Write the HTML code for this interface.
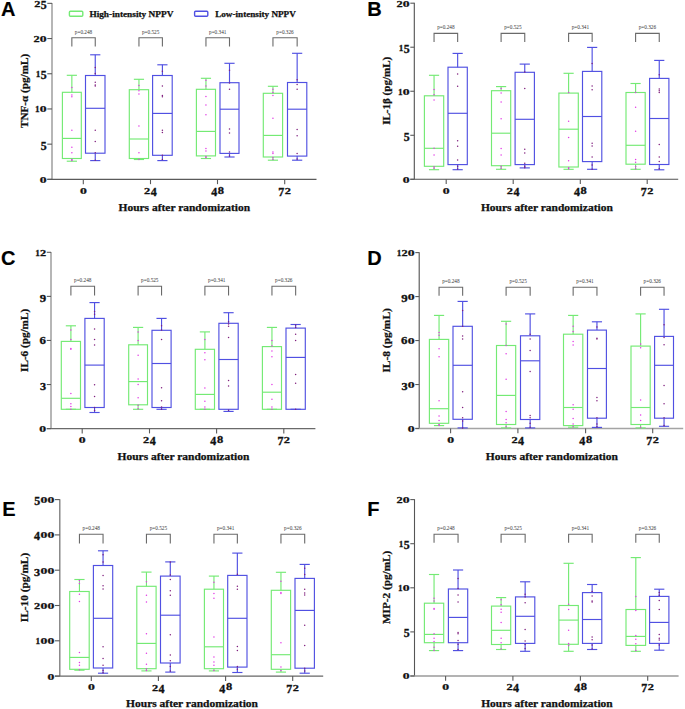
<!DOCTYPE html>
<html><head><meta charset="utf-8"><style>
html,body{margin:0;padding:0;background:#fff;}
svg{display:block;}
.L{font-family:"Liberation Sans",sans-serif;font-weight:bold;font-size:20px;fill:#000;stroke:#000;stroke-width:0.15px;}
.T{font-family:"Liberation Serif",serif;font-weight:bold;font-size:9px;fill:#111;stroke:#111;stroke-width:0.25px;}
.X{font-family:"Liberation Serif",serif;font-weight:bold;font-size:9.8px;fill:#111;stroke:#111;stroke-width:0.25px;}
.G{font-family:"Liberation Serif",serif;font-weight:bold;font-size:8.6px;fill:#111;stroke:#111;stroke-width:0.25px;}
.D{font-family:"Liberation Serif",serif;font-weight:bold;font-size:10px;fill:#111;stroke:#111;stroke-width:0.3px;}
.P{font-family:"Liberation Serif",serif;font-size:5.2px;fill:#333;}
</style></head><body>
<svg width="685" height="709" viewBox="0 0 685 709">
<rect width="685" height="709" fill="#fff"/>
<text transform="translate(1,16.3)" class="L">A</text>
<line x1="52" y1="2.95" x2="52" y2="179.35" stroke="#a4a4a4" stroke-width="1.6"/>
<line x1="47.3" y1="179.35" x2="316.5" y2="179.35" stroke="#5a5a5a" stroke-width="1.1"/>
<line x1="47.3" y1="179.35" x2="52" y2="179.35" stroke="#5a5a5a" stroke-width="1.1"/>
<text transform="translate(39.78,182.78) scale(1.3712,0.8309)" class="D">0</text>
<line x1="47.3" y1="144.15" x2="52" y2="144.15" stroke="#5a5a5a" stroke-width="1.1"/>
<text transform="translate(40.63,149.55) scale(1.1848,1.1446)" class="D">5</text>
<line x1="47.3" y1="108.95" x2="52" y2="108.95" stroke="#5a5a5a" stroke-width="1.1"/>
<text transform="translate(34.96,112.45) scale(0.9264,0.8485)" class="D">1</text><text transform="translate(39.78,112.38) scale(1.3712,0.8309)" class="D">0</text>
<line x1="47.3" y1="73.75" x2="52" y2="73.75" stroke="#5a5a5a" stroke-width="1.1"/>
<text transform="translate(35.76,77.25) scale(0.9264,0.8485)" class="D">1</text><text transform="translate(40.63,79.15) scale(1.1848,1.1446)" class="D">5</text>
<line x1="47.3" y1="38.55" x2="52" y2="38.55" stroke="#5a5a5a" stroke-width="1.1"/>
<text transform="translate(33.48,42.05) scale(1.2319,0.8459)" class="D">2</text><text transform="translate(39.78,41.98) scale(1.3712,0.8309)" class="D">0</text>
<line x1="47.3" y1="3.35" x2="52" y2="3.35" stroke="#5a5a5a" stroke-width="1.1"/>
<text transform="translate(34.28,6.85) scale(1.2319,0.8459)" class="D">2</text><text transform="translate(40.63,8.75) scale(1.1848,1.1446)" class="D">5</text>
<line x1="83.3" y1="179.35" x2="83.3" y2="184.15" stroke="#5a5a5a" stroke-width="1.1"/>
<text transform="translate(79.88,193.68) scale(1.3712,0.8309)" class="D">0</text>
<line x1="150.5" y1="179.35" x2="150.5" y2="184.15" stroke="#5a5a5a" stroke-width="1.1"/>
<text transform="translate(144.03,193.75) scale(1.2319,0.8459)" class="D">2</text><text transform="translate(150.68,195.75) scale(1.2017,1.1550)" class="D">4</text>
<line x1="217.5" y1="179.35" x2="217.5" y2="184.15" stroke="#5a5a5a" stroke-width="1.1"/>
<text transform="translate(211.23,195.75) scale(1.2017,1.1550)" class="D">4</text><text transform="translate(217.79,193.66) scale(1.2471,1.0386)" class="D">8</text>
<line x1="284.7" y1="179.35" x2="284.7" y2="184.15" stroke="#5a5a5a" stroke-width="1.1"/>
<text transform="translate(278.37,195.75) scale(1.1962,1.1603)" class="D">7</text><text transform="translate(284.73,193.75) scale(1.2319,0.8459)" class="D">2</text>
<text x="118.5" y="210.7" class="X" textLength="131.6" lengthAdjust="spacingAndGlyphs">Hours after randomization</text>
<text transform="translate(28,127.95) rotate(-90)" class="X" textLength="74.1" lengthAdjust="spacingAndGlyphs">TNF-α (pg/mL)</text>
<g stroke="#74ea74" stroke-width="1.15" fill="none"><rect x="62.4" y="92.3" width="18.9" height="66.2"/><line x1="62.4" y1="138.4" x2="81.3" y2="138.4"/><line x1="71.85" y1="92.3" x2="71.85" y2="75.3"/><line x1="66.75" y1="75.3" x2="76.95" y2="75.3"/><line x1="71.85" y1="158.5" x2="71.85" y2="161.2"/><line x1="66.75" y1="161.2" x2="76.95" y2="161.2"/></g>
<circle cx="71.85" cy="87.6" r="0.75" fill="#e23ae6"/>
<circle cx="71.85" cy="95" r="0.75" fill="#e23ae6"/>
<circle cx="71.85" cy="96.7" r="0.75" fill="#e23ae6"/>
<circle cx="71.85" cy="130.3" r="0.75" fill="#e23ae6"/>
<circle cx="71.85" cy="147.3" r="0.75" fill="#e23ae6"/>
<circle cx="71.85" cy="152.8" r="0.75" fill="#e23ae6"/>
<circle cx="71.85" cy="159.5" r="0.75" fill="#e23ae6"/>
<circle cx="71.85" cy="160.6" r="0.75" fill="#e23ae6"/>
<g stroke="#5050e2" stroke-width="1.15" fill="none"><rect x="85.5" y="75.5" width="19.5" height="77.7"/><line x1="85.5" y1="108.3" x2="105" y2="108.3"/><line x1="95.25" y1="75.5" x2="95.25" y2="54.8"/><line x1="90.15" y1="54.8" x2="100.35" y2="54.8"/><line x1="95.25" y1="153.2" x2="95.25" y2="160.6"/><line x1="90.15" y1="160.6" x2="100.35" y2="160.6"/></g>
<circle cx="95.25" cy="67.5" r="0.75" fill="#80207f"/>
<circle cx="95.25" cy="73.4" r="0.75" fill="#80207f"/>
<circle cx="95.25" cy="82.3" r="0.75" fill="#80207f"/>
<circle cx="95.25" cy="85" r="0.75" fill="#80207f"/>
<circle cx="95.25" cy="86.1" r="0.75" fill="#80207f"/>
<circle cx="95.25" cy="130.3" r="0.75" fill="#80207f"/>
<circle cx="95.25" cy="141.5" r="0.75" fill="#80207f"/>
<circle cx="95.25" cy="152.8" r="0.75" fill="#80207f"/>
<circle cx="95.25" cy="160.2" r="0.75" fill="#80207f"/>
<path d="M71.85 46.5V37.7H95.25V46.5" stroke="#6a6a6a" stroke-width="1.1" fill="none"/>
<text x="74.85" y="33.6" class="P" textLength="17.4" lengthAdjust="spacingAndGlyphs">p=0.248</text>
<g stroke="#74ea74" stroke-width="1.15" fill="none"><rect x="129.3" y="89.7" width="19.3" height="68.8"/><line x1="129.3" y1="139" x2="148.6" y2="139"/><line x1="138.95" y1="89.7" x2="138.95" y2="79.3"/><line x1="133.85" y1="79.3" x2="144.05" y2="79.3"/><line x1="138.95" y1="158.5" x2="138.95" y2="159.5"/><line x1="133.85" y1="159.5" x2="144.05" y2="159.5"/></g>
<circle cx="138.95" cy="85.5" r="0.75" fill="#e23ae6"/>
<circle cx="138.95" cy="90.8" r="0.75" fill="#e23ae6"/>
<circle cx="138.95" cy="94" r="0.75" fill="#e23ae6"/>
<circle cx="138.95" cy="126.1" r="0.75" fill="#e23ae6"/>
<circle cx="138.95" cy="152.8" r="0.75" fill="#e23ae6"/>
<circle cx="138.95" cy="159.5" r="0.75" fill="#e23ae6"/>
<g stroke="#5050e2" stroke-width="1.15" fill="none"><rect x="152.6" y="75.5" width="19.6" height="79.8"/><line x1="152.6" y1="113.4" x2="172.2" y2="113.4"/><line x1="162.4" y1="75.5" x2="162.4" y2="64.8"/><line x1="157.3" y1="64.8" x2="167.5" y2="64.8"/><line x1="162.4" y1="155.3" x2="162.4" y2="160.6"/><line x1="157.3" y1="160.6" x2="167.5" y2="160.6"/></g>
<circle cx="162.4" cy="71.3" r="0.75" fill="#80207f"/>
<circle cx="162.4" cy="86.1" r="0.75" fill="#80207f"/>
<circle cx="162.4" cy="95.4" r="0.75" fill="#80207f"/>
<circle cx="162.4" cy="96.7" r="0.75" fill="#80207f"/>
<circle cx="162.4" cy="130.3" r="0.75" fill="#80207f"/>
<circle cx="162.4" cy="132.4" r="0.75" fill="#80207f"/>
<circle cx="162.4" cy="155.3" r="0.75" fill="#80207f"/>
<circle cx="162.4" cy="159.5" r="0.75" fill="#80207f"/>
<path d="M138.95 46.5V37.7H162.4V46.5" stroke="#6a6a6a" stroke-width="1.1" fill="none"/>
<text x="141.97" y="33.6" class="P" textLength="17.4" lengthAdjust="spacingAndGlyphs">p=0.525</text>
<g stroke="#74ea74" stroke-width="1.15" fill="none"><rect x="196.4" y="89.3" width="19.1" height="66.6"/><line x1="196.4" y1="131.4" x2="215.5" y2="131.4"/><line x1="205.95" y1="89.3" x2="205.95" y2="78.3"/><line x1="200.85" y1="78.3" x2="211.05" y2="78.3"/><line x1="205.95" y1="155.9" x2="205.95" y2="158.5"/><line x1="200.85" y1="158.5" x2="211.05" y2="158.5"/></g>
<circle cx="205.95" cy="80.2" r="0.75" fill="#e23ae6"/>
<circle cx="205.95" cy="86.1" r="0.75" fill="#e23ae6"/>
<circle cx="205.95" cy="96.5" r="0.75" fill="#e23ae6"/>
<circle cx="205.95" cy="104.9" r="0.75" fill="#e23ae6"/>
<circle cx="205.95" cy="114.7" r="0.75" fill="#e23ae6"/>
<circle cx="205.95" cy="148.5" r="0.75" fill="#e23ae6"/>
<circle cx="205.95" cy="151" r="0.75" fill="#e23ae6"/>
<circle cx="205.95" cy="156.4" r="0.75" fill="#e23ae6"/>
<circle cx="205.95" cy="157.8" r="0.75" fill="#e23ae6"/>
<g stroke="#5050e2" stroke-width="1.15" fill="none"><rect x="220" y="82.7" width="19" height="70.7"/><line x1="220" y1="109.2" x2="239" y2="109.2"/><line x1="229.5" y1="82.7" x2="229.5" y2="63.3"/><line x1="224.4" y1="63.3" x2="234.6" y2="63.3"/><line x1="229.5" y1="153.4" x2="229.5" y2="157"/><line x1="224.4" y1="157" x2="234.6" y2="157"/></g>
<circle cx="229.5" cy="70.3" r="0.75" fill="#80207f"/>
<circle cx="229.5" cy="83" r="0.75" fill="#80207f"/>
<circle cx="229.5" cy="89.3" r="0.75" fill="#80207f"/>
<circle cx="229.5" cy="128.9" r="0.75" fill="#80207f"/>
<circle cx="229.5" cy="133.1" r="0.75" fill="#80207f"/>
<circle cx="229.5" cy="152.1" r="0.75" fill="#80207f"/>
<circle cx="229.5" cy="155.9" r="0.75" fill="#80207f"/>
<path d="M205.95 46.5V37.7H229.5V46.5" stroke="#6a6a6a" stroke-width="1.1" fill="none"/>
<text x="209.03" y="33.6" class="P" textLength="17.4" lengthAdjust="spacingAndGlyphs">p=0.341</text>
<g stroke="#74ea74" stroke-width="1.15" fill="none"><rect x="263.3" y="93.3" width="19.3" height="63.7"/><line x1="263.3" y1="135.4" x2="282.6" y2="135.4"/><line x1="272.95" y1="93.3" x2="272.95" y2="86.3"/><line x1="267.85" y1="86.3" x2="278.05" y2="86.3"/><line x1="272.95" y1="157" x2="272.95" y2="160.2"/><line x1="267.85" y1="160.2" x2="278.05" y2="160.2"/></g>
<circle cx="272.95" cy="89.3" r="0.75" fill="#e23ae6"/>
<circle cx="272.95" cy="92.5" r="0.75" fill="#e23ae6"/>
<circle cx="272.95" cy="95.4" r="0.75" fill="#e23ae6"/>
<circle cx="272.95" cy="118.3" r="0.75" fill="#e23ae6"/>
<circle cx="272.95" cy="152.1" r="0.75" fill="#e23ae6"/>
<circle cx="272.95" cy="153.6" r="0.75" fill="#e23ae6"/>
<circle cx="272.95" cy="157.4" r="0.75" fill="#e23ae6"/>
<circle cx="272.95" cy="159.5" r="0.75" fill="#e23ae6"/>
<g stroke="#5050e2" stroke-width="1.15" fill="none"><rect x="287.5" y="82.5" width="19.3" height="73.6"/><line x1="287.5" y1="109.2" x2="306.8" y2="109.2"/><line x1="297.15" y1="82.5" x2="297.15" y2="53.3"/><line x1="292.05" y1="53.3" x2="302.25" y2="53.3"/><line x1="297.15" y1="156.1" x2="297.15" y2="160.2"/><line x1="292.05" y1="160.2" x2="302.25" y2="160.2"/></g>
<circle cx="297.15" cy="79.8" r="0.75" fill="#80207f"/>
<circle cx="297.15" cy="84.4" r="0.75" fill="#80207f"/>
<circle cx="297.15" cy="89.3" r="0.75" fill="#80207f"/>
<circle cx="297.15" cy="129.5" r="0.75" fill="#80207f"/>
<circle cx="297.15" cy="135.8" r="0.75" fill="#80207f"/>
<circle cx="297.15" cy="153.6" r="0.75" fill="#80207f"/>
<circle cx="297.15" cy="159.1" r="0.75" fill="#80207f"/>
<path d="M272.95 46.5V37.7H297.15V46.5" stroke="#6a6a6a" stroke-width="1.1" fill="none"/>
<text x="276.35" y="33.6" class="P" textLength="17.4" lengthAdjust="spacingAndGlyphs">p=0.326</text>
<text transform="translate(367.3,16.4)" class="L">B</text>
<line x1="414.3" y1="2.8" x2="414.3" y2="179.3" stroke="#505050" stroke-width="1.1"/>
<line x1="410.3" y1="179.3" x2="678.2" y2="179.3" stroke="#505050" stroke-width="1.1"/>
<line x1="410.3" y1="179.3" x2="414.3" y2="179.3" stroke="#5a5a5a" stroke-width="1.1"/>
<text transform="translate(402.78,182.73) scale(1.3712,0.8309)" class="D">0</text>
<line x1="410.3" y1="135.28" x2="414.3" y2="135.28" stroke="#5a5a5a" stroke-width="1.1"/>
<text transform="translate(403.63,140.67) scale(1.1848,1.1446)" class="D">5</text>
<line x1="410.3" y1="91.25" x2="414.3" y2="91.25" stroke="#5a5a5a" stroke-width="1.1"/>
<text transform="translate(397.96,94.75) scale(0.9264,0.8485)" class="D">1</text><text transform="translate(402.78,94.68) scale(1.3712,0.8309)" class="D">0</text>
<line x1="410.3" y1="47.22" x2="414.3" y2="47.22" stroke="#5a5a5a" stroke-width="1.1"/>
<text transform="translate(398.76,50.72) scale(0.9264,0.8485)" class="D">1</text><text transform="translate(403.63,52.62) scale(1.1848,1.1446)" class="D">5</text>
<line x1="410.3" y1="3.2" x2="414.3" y2="3.2" stroke="#5a5a5a" stroke-width="1.1"/>
<text transform="translate(396.48,6.7) scale(1.2319,0.8459)" class="D">2</text><text transform="translate(402.78,6.63) scale(1.3712,0.8309)" class="D">0</text>
<line x1="446.2" y1="179.3" x2="446.2" y2="184.1" stroke="#5a5a5a" stroke-width="1.1"/>
<text transform="translate(442.78,193.63) scale(1.3712,0.8309)" class="D">0</text>
<line x1="513.2" y1="179.3" x2="513.2" y2="184.1" stroke="#5a5a5a" stroke-width="1.1"/>
<text transform="translate(506.73,193.7) scale(1.2319,0.8459)" class="D">2</text><text transform="translate(513.38,195.7) scale(1.2017,1.1550)" class="D">4</text>
<line x1="580.3" y1="179.3" x2="580.3" y2="184.1" stroke="#5a5a5a" stroke-width="1.1"/>
<text transform="translate(574.03,195.7) scale(1.2017,1.1550)" class="D">4</text><text transform="translate(580.59,193.61) scale(1.2471,1.0386)" class="D">8</text>
<line x1="647.2" y1="179.3" x2="647.2" y2="184.1" stroke="#5a5a5a" stroke-width="1.1"/>
<text transform="translate(640.87,195.7) scale(1.1962,1.1603)" class="D">7</text><text transform="translate(647.23,193.7) scale(1.2319,0.8459)" class="D">2</text>
<text x="480.9" y="210.7" class="X" textLength="131.9" lengthAdjust="spacingAndGlyphs">Hours after randomization</text>
<text transform="translate(389.6,124.8) rotate(-90)" class="X" textLength="68" lengthAdjust="spacingAndGlyphs">IL-1β (pg/mL)</text>
<g stroke="#74ea74" stroke-width="1.15" fill="none"><rect x="424.4" y="95.8" width="19.3" height="70.5"/><line x1="424.4" y1="148.3" x2="443.7" y2="148.3"/><line x1="434.05" y1="95.8" x2="434.05" y2="75.3"/><line x1="428.95" y1="75.3" x2="439.15" y2="75.3"/><line x1="434.05" y1="166.3" x2="434.05" y2="169.7"/><line x1="428.95" y1="169.7" x2="439.15" y2="169.7"/></g>
<circle cx="434.05" cy="89.6" r="0.75" fill="#e23ae6"/>
<circle cx="434.05" cy="94.7" r="0.75" fill="#e23ae6"/>
<circle cx="434.05" cy="99.9" r="0.75" fill="#e23ae6"/>
<circle cx="434.05" cy="148.3" r="0.75" fill="#e23ae6"/>
<circle cx="434.05" cy="155" r="0.75" fill="#e23ae6"/>
<circle cx="434.05" cy="166.7" r="0.75" fill="#e23ae6"/>
<circle cx="434.05" cy="168.3" r="0.75" fill="#e23ae6"/>
<g stroke="#5050e2" stroke-width="1.15" fill="none"><rect x="448" y="67.2" width="19.3" height="97.4"/><line x1="448" y1="113.3" x2="467.3" y2="113.3"/><line x1="457.65" y1="67.2" x2="457.65" y2="53.4"/><line x1="452.55" y1="53.4" x2="462.75" y2="53.4"/><line x1="457.65" y1="164.6" x2="457.65" y2="169.7"/><line x1="452.55" y1="169.7" x2="462.75" y2="169.7"/></g>
<circle cx="457.65" cy="73.9" r="0.75" fill="#80207f"/>
<circle cx="457.65" cy="86.2" r="0.75" fill="#80207f"/>
<circle cx="457.65" cy="140.7" r="0.75" fill="#80207f"/>
<circle cx="457.65" cy="146.2" r="0.75" fill="#80207f"/>
<circle cx="457.65" cy="160.1" r="0.75" fill="#80207f"/>
<circle cx="457.65" cy="166.3" r="0.75" fill="#80207f"/>
<circle cx="457.65" cy="168.9" r="0.75" fill="#80207f"/>
<path d="M434.05 41.9V33.4H457.65V41.9" stroke="#6a6a6a" stroke-width="1.1" fill="none"/>
<text x="437.15" y="29.3" class="P" textLength="17.4" lengthAdjust="spacingAndGlyphs">p=0.248</text>
<g stroke="#74ea74" stroke-width="1.15" fill="none"><rect x="491.5" y="90.7" width="19.2" height="75"/><line x1="491.5" y1="133.2" x2="510.7" y2="133.2"/><line x1="501.1" y1="90.7" x2="501.1" y2="86.6"/><line x1="496" y1="86.6" x2="506.2" y2="86.6"/><line x1="501.1" y1="165.7" x2="501.1" y2="169.3"/><line x1="496" y1="169.3" x2="506.2" y2="169.3"/></g>
<circle cx="501.1" cy="88.6" r="0.75" fill="#e23ae6"/>
<circle cx="501.1" cy="93.1" r="0.75" fill="#e23ae6"/>
<circle cx="501.1" cy="101.9" r="0.75" fill="#e23ae6"/>
<circle cx="501.1" cy="118.7" r="0.75" fill="#e23ae6"/>
<circle cx="501.1" cy="148.5" r="0.75" fill="#e23ae6"/>
<circle cx="501.1" cy="155" r="0.75" fill="#e23ae6"/>
<circle cx="501.1" cy="166.3" r="0.75" fill="#e23ae6"/>
<circle cx="501.1" cy="168.3" r="0.75" fill="#e23ae6"/>
<g stroke="#5050e2" stroke-width="1.15" fill="none"><rect x="515.1" y="72.3" width="19.3" height="92.3"/><line x1="515.1" y1="119.3" x2="534.4" y2="119.3"/><line x1="524.75" y1="72.3" x2="524.75" y2="64.1"/><line x1="519.65" y1="64.1" x2="529.85" y2="64.1"/><line x1="524.75" y1="164.6" x2="524.75" y2="167.9"/><line x1="519.65" y1="167.9" x2="529.85" y2="167.9"/></g>
<circle cx="524.75" cy="71.9" r="0.75" fill="#80207f"/>
<circle cx="524.75" cy="88.6" r="0.75" fill="#80207f"/>
<circle cx="524.75" cy="149.3" r="0.75" fill="#80207f"/>
<circle cx="524.75" cy="153" r="0.75" fill="#80207f"/>
<circle cx="524.75" cy="163.2" r="0.75" fill="#80207f"/>
<circle cx="524.75" cy="166.3" r="0.75" fill="#80207f"/>
<circle cx="524.75" cy="167.7" r="0.75" fill="#80207f"/>
<path d="M501.1 41.9V33.4H524.75V41.9" stroke="#6a6a6a" stroke-width="1.1" fill="none"/>
<text x="504.22" y="29.3" class="P" textLength="17.4" lengthAdjust="spacingAndGlyphs">p=0.525</text>
<g stroke="#74ea74" stroke-width="1.15" fill="none"><rect x="558.9" y="93.1" width="19.4" height="73.9"/><line x1="558.9" y1="129.2" x2="578.3" y2="129.2"/><line x1="568.6" y1="93.1" x2="568.6" y2="73.3"/><line x1="563.5" y1="73.3" x2="573.7" y2="73.3"/><line x1="568.6" y1="167" x2="568.6" y2="169.3"/><line x1="563.5" y1="169.3" x2="573.7" y2="169.3"/></g>
<circle cx="568.6" cy="92.5" r="0.75" fill="#e23ae6"/>
<circle cx="568.6" cy="121.3" r="0.75" fill="#e23ae6"/>
<circle cx="568.6" cy="137.4" r="0.75" fill="#e23ae6"/>
<circle cx="568.6" cy="160.8" r="0.75" fill="#e23ae6"/>
<circle cx="568.6" cy="167.8" r="0.75" fill="#e23ae6"/>
<circle cx="568.6" cy="168.7" r="0.75" fill="#e23ae6"/>
<g stroke="#5050e2" stroke-width="1.15" fill="none"><rect x="582.5" y="71.4" width="19.3" height="90.2"/><line x1="582.5" y1="116.5" x2="601.8" y2="116.5"/><line x1="592.15" y1="71.4" x2="592.15" y2="47.4"/><line x1="587.05" y1="47.4" x2="597.25" y2="47.4"/><line x1="592.15" y1="161.6" x2="592.15" y2="169.3"/><line x1="587.05" y1="169.3" x2="597.25" y2="169.3"/></g>
<circle cx="592.15" cy="63.5" r="0.75" fill="#80207f"/>
<circle cx="592.15" cy="86" r="0.75" fill="#80207f"/>
<circle cx="592.15" cy="89.7" r="0.75" fill="#80207f"/>
<circle cx="592.15" cy="143.3" r="0.75" fill="#80207f"/>
<circle cx="592.15" cy="146.1" r="0.75" fill="#80207f"/>
<circle cx="592.15" cy="157.1" r="0.75" fill="#80207f"/>
<circle cx="592.15" cy="165" r="0.75" fill="#80207f"/>
<circle cx="592.15" cy="169.3" r="0.75" fill="#80207f"/>
<path d="M568.6 41.9V33.4H592.15V41.9" stroke="#6a6a6a" stroke-width="1.1" fill="none"/>
<text x="571.67" y="29.3" class="P" textLength="17.4" lengthAdjust="spacingAndGlyphs">p=0.341</text>
<g stroke="#74ea74" stroke-width="1.15" fill="none"><rect x="626" y="92.5" width="19.2" height="71.7"/><line x1="626" y1="145.3" x2="645.2" y2="145.3"/><line x1="635.6" y1="92.5" x2="635.6" y2="83.5"/><line x1="630.5" y1="83.5" x2="640.7" y2="83.5"/><line x1="635.6" y1="164.2" x2="635.6" y2="169.3"/><line x1="630.5" y1="169.3" x2="640.7" y2="169.3"/></g>
<circle cx="635.6" cy="92.5" r="0.75" fill="#e23ae6"/>
<circle cx="635.6" cy="107.2" r="0.75" fill="#e23ae6"/>
<circle cx="635.6" cy="131.2" r="0.75" fill="#e23ae6"/>
<circle cx="635.6" cy="159.4" r="0.75" fill="#e23ae6"/>
<circle cx="635.6" cy="162.2" r="0.75" fill="#e23ae6"/>
<circle cx="635.6" cy="166.4" r="0.75" fill="#e23ae6"/>
<circle cx="635.6" cy="168.7" r="0.75" fill="#e23ae6"/>
<g stroke="#5050e2" stroke-width="1.15" fill="none"><rect x="649.6" y="78.4" width="19.3" height="86.1"/><line x1="649.6" y1="118.5" x2="668.9" y2="118.5"/><line x1="659.25" y1="78.4" x2="659.25" y2="60.4"/><line x1="654.15" y1="60.4" x2="664.35" y2="60.4"/><line x1="659.25" y1="164.5" x2="659.25" y2="169.8"/><line x1="654.15" y1="169.8" x2="664.35" y2="169.8"/></g>
<circle cx="659.25" cy="74.8" r="0.75" fill="#80207f"/>
<circle cx="659.25" cy="88.9" r="0.75" fill="#80207f"/>
<circle cx="659.25" cy="90.8" r="0.75" fill="#80207f"/>
<circle cx="659.25" cy="92.5" r="0.75" fill="#80207f"/>
<circle cx="659.25" cy="144.4" r="0.75" fill="#80207f"/>
<circle cx="659.25" cy="157.1" r="0.75" fill="#80207f"/>
<circle cx="659.25" cy="161.6" r="0.75" fill="#80207f"/>
<circle cx="659.25" cy="168.7" r="0.75" fill="#80207f"/>
<path d="M635.6 41.9V33.4H659.25V41.9" stroke="#6a6a6a" stroke-width="1.1" fill="none"/>
<text x="638.72" y="29.3" class="P" textLength="17.4" lengthAdjust="spacingAndGlyphs">p=0.326</text>
<text transform="translate(1,264.7)" class="L">C</text>
<line x1="51" y1="251.9" x2="51" y2="428.6" stroke="#a4a4a4" stroke-width="1.6"/>
<line x1="46.8" y1="428.6" x2="315.4" y2="428.6" stroke="#6a6a6a" stroke-width="1.2"/>
<line x1="46.8" y1="428.6" x2="51" y2="428.6" stroke="#5a5a5a" stroke-width="1.1"/>
<text transform="translate(39.28,432.03) scale(1.3712,0.8309)" class="D">0</text>
<line x1="46.8" y1="384.53" x2="51" y2="384.53" stroke="#5a5a5a" stroke-width="1.1"/>
<text transform="translate(39.94,389.92) scale(1.2178,1.1326)" class="D">3</text>
<line x1="46.8" y1="340.45" x2="51" y2="340.45" stroke="#5a5a5a" stroke-width="1.1"/>
<text transform="translate(39.56,343.86) scale(1.2844,1.0432)" class="D">6</text>
<line x1="46.8" y1="296.38" x2="51" y2="296.38" stroke="#5a5a5a" stroke-width="1.1"/>
<text transform="translate(39.65,301.77) scale(1.2844,1.1326)" class="D">9</text>
<line x1="46.8" y1="252.3" x2="51" y2="252.3" stroke="#5a5a5a" stroke-width="1.1"/>
<text transform="translate(35.16,255.8) scale(0.9264,0.8485)" class="D">1</text><text transform="translate(39.98,255.8) scale(1.2319,0.8459)" class="D">2</text>
<line x1="82.2" y1="428.6" x2="82.2" y2="433.4" stroke="#5a5a5a" stroke-width="1.1"/>
<text transform="translate(78.78,442.93) scale(1.3712,0.8309)" class="D">0</text>
<line x1="149.5" y1="428.6" x2="149.5" y2="433.4" stroke="#5a5a5a" stroke-width="1.1"/>
<text transform="translate(143.03,443) scale(1.2319,0.8459)" class="D">2</text><text transform="translate(149.68,445) scale(1.2017,1.1550)" class="D">4</text>
<line x1="216.6" y1="428.6" x2="216.6" y2="433.4" stroke="#5a5a5a" stroke-width="1.1"/>
<text transform="translate(210.33,445) scale(1.2017,1.1550)" class="D">4</text><text transform="translate(216.89,442.91) scale(1.2471,1.0386)" class="D">8</text>
<line x1="283.8" y1="428.6" x2="283.8" y2="433.4" stroke="#5a5a5a" stroke-width="1.1"/>
<text transform="translate(277.47,445) scale(1.1962,1.1603)" class="D">7</text><text transform="translate(283.83,443) scale(1.2319,0.8459)" class="D">2</text>
<text x="117.5" y="460.2" class="X" textLength="131.8" lengthAdjust="spacingAndGlyphs">Hours after randomization</text>
<text transform="translate(27.95,371.9) rotate(-90)" class="X" textLength="63" lengthAdjust="spacingAndGlyphs">IL-6 (pg/mL)</text>
<g stroke="#74ea74" stroke-width="1.15" fill="none"><rect x="61.3" y="341.4" width="19.2" height="67.9"/><line x1="61.3" y1="398.3" x2="80.5" y2="398.3"/><line x1="70.9" y1="341.4" x2="70.9" y2="325.8"/><line x1="65.8" y1="325.8" x2="76" y2="325.8"/><line x1="70.9" y1="409.3" x2="70.9" y2="409.3"/><line x1="65.8" y1="409.3" x2="76" y2="409.3"/></g>
<circle cx="70.9" cy="330.1" r="0.75" fill="#e23ae6"/>
<circle cx="70.9" cy="339.4" r="0.75" fill="#e23ae6"/>
<circle cx="70.9" cy="348.4" r="0.75" fill="#e23ae6"/>
<circle cx="70.9" cy="349.3" r="0.75" fill="#e23ae6"/>
<circle cx="70.9" cy="393.5" r="0.75" fill="#e23ae6"/>
<circle cx="70.9" cy="403.7" r="0.75" fill="#e23ae6"/>
<circle cx="70.9" cy="406.4" r="0.75" fill="#e23ae6"/>
<circle cx="70.9" cy="409.3" r="0.75" fill="#e23ae6"/>
<g stroke="#5050e2" stroke-width="1.15" fill="none"><rect x="84.9" y="318.4" width="19.3" height="89.1"/><line x1="84.9" y1="365.1" x2="104.2" y2="365.1"/><line x1="94.55" y1="318.4" x2="94.55" y2="302.6"/><line x1="89.45" y1="302.6" x2="99.65" y2="302.6"/><line x1="94.55" y1="407.5" x2="94.55" y2="412.5"/><line x1="89.45" y1="412.5" x2="99.65" y2="412.5"/></g>
<circle cx="94.55" cy="311.6" r="0.75" fill="#80207f"/>
<circle cx="94.55" cy="314.3" r="0.75" fill="#80207f"/>
<circle cx="94.55" cy="329" r="0.75" fill="#80207f"/>
<circle cx="94.55" cy="339.4" r="0.75" fill="#80207f"/>
<circle cx="94.55" cy="345" r="0.75" fill="#80207f"/>
<circle cx="94.55" cy="384.7" r="0.75" fill="#80207f"/>
<circle cx="94.55" cy="396.5" r="0.75" fill="#80207f"/>
<circle cx="94.55" cy="407.5" r="0.75" fill="#80207f"/>
<circle cx="94.55" cy="410.5" r="0.75" fill="#80207f"/>
<path d="M70.9 295.4V286.3H94.55V295.4" stroke="#6a6a6a" stroke-width="1.1" fill="none"/>
<text x="74.03" y="282.2" class="P" textLength="17.4" lengthAdjust="spacingAndGlyphs">p=0.248</text>
<g stroke="#74ea74" stroke-width="1.15" fill="none"><rect x="128.7" y="344.8" width="18.8" height="60"/><line x1="128.7" y1="381.6" x2="147.5" y2="381.6"/><line x1="138.1" y1="344.8" x2="138.1" y2="327.4"/><line x1="133" y1="327.4" x2="143.2" y2="327.4"/><line x1="138.1" y1="404.8" x2="138.1" y2="409.3"/><line x1="133" y1="409.3" x2="143.2" y2="409.3"/></g>
<circle cx="138.1" cy="331.9" r="0.75" fill="#e23ae6"/>
<circle cx="138.1" cy="340.5" r="0.75" fill="#e23ae6"/>
<circle cx="138.1" cy="355.2" r="0.75" fill="#e23ae6"/>
<circle cx="138.1" cy="378.9" r="0.75" fill="#e23ae6"/>
<circle cx="138.1" cy="384.5" r="0.75" fill="#e23ae6"/>
<circle cx="138.1" cy="397.8" r="0.75" fill="#e23ae6"/>
<circle cx="138.1" cy="405.3" r="0.75" fill="#e23ae6"/>
<circle cx="138.1" cy="408.7" r="0.75" fill="#e23ae6"/>
<g stroke="#5050e2" stroke-width="1.15" fill="none"><rect x="152" y="330.3" width="19.1" height="77.2"/><line x1="152" y1="363.5" x2="171.1" y2="363.5"/><line x1="161.55" y1="330.3" x2="161.55" y2="318.4"/><line x1="156.45" y1="318.4" x2="166.65" y2="318.4"/><line x1="161.55" y1="407.5" x2="161.55" y2="409.3"/><line x1="156.45" y1="409.3" x2="166.65" y2="409.3"/></g>
<circle cx="161.55" cy="325.8" r="0.75" fill="#80207f"/>
<circle cx="161.55" cy="330.1" r="0.75" fill="#80207f"/>
<circle cx="161.55" cy="339.4" r="0.75" fill="#80207f"/>
<circle cx="161.55" cy="387.7" r="0.75" fill="#80207f"/>
<circle cx="161.55" cy="400.8" r="0.75" fill="#80207f"/>
<circle cx="161.55" cy="406.9" r="0.75" fill="#80207f"/>
<circle cx="161.55" cy="409.3" r="0.75" fill="#80207f"/>
<path d="M138.1 295.4V286.3H161.55V295.4" stroke="#6a6a6a" stroke-width="1.1" fill="none"/>
<text x="141.12" y="282.2" class="P" textLength="17.4" lengthAdjust="spacingAndGlyphs">p=0.525</text>
<g stroke="#74ea74" stroke-width="1.15" fill="none"><rect x="195.3" y="349.3" width="19.2" height="60"/><line x1="195.3" y1="394.4" x2="214.5" y2="394.4"/><line x1="204.9" y1="349.3" x2="204.9" y2="331.9"/><line x1="199.8" y1="331.9" x2="210" y2="331.9"/><line x1="204.9" y1="409.3" x2="204.9" y2="409.3"/><line x1="199.8" y1="409.3" x2="210" y2="409.3"/></g>
<circle cx="204.9" cy="339.4" r="0.75" fill="#e23ae6"/>
<circle cx="204.9" cy="352.7" r="0.75" fill="#e23ae6"/>
<circle cx="204.9" cy="359.7" r="0.75" fill="#e23ae6"/>
<circle cx="204.9" cy="387.9" r="0.75" fill="#e23ae6"/>
<circle cx="204.9" cy="401.2" r="0.75" fill="#e23ae6"/>
<circle cx="204.9" cy="406.9" r="0.75" fill="#e23ae6"/>
<circle cx="204.9" cy="409.3" r="0.75" fill="#e23ae6"/>
<g stroke="#5050e2" stroke-width="1.15" fill="none"><rect x="218.9" y="323.3" width="19.3" height="86"/><line x1="218.9" y1="359.5" x2="238.2" y2="359.5"/><line x1="228.55" y1="323.3" x2="228.55" y2="312.7"/><line x1="223.45" y1="312.7" x2="233.65" y2="312.7"/><line x1="228.55" y1="409.3" x2="228.55" y2="411.4"/><line x1="223.45" y1="411.4" x2="233.65" y2="411.4"/></g>
<circle cx="228.55" cy="321.8" r="0.75" fill="#80207f"/>
<circle cx="228.55" cy="324" r="0.75" fill="#80207f"/>
<circle cx="228.55" cy="326.3" r="0.75" fill="#80207f"/>
<circle cx="228.55" cy="337.6" r="0.75" fill="#80207f"/>
<circle cx="228.55" cy="380.5" r="0.75" fill="#80207f"/>
<circle cx="228.55" cy="386.1" r="0.75" fill="#80207f"/>
<circle cx="228.55" cy="410.2" r="0.75" fill="#80207f"/>
<path d="M204.9 295.4V286.3H228.55V295.4" stroke="#6a6a6a" stroke-width="1.1" fill="none"/>
<text x="208.03" y="282.2" class="P" textLength="17.4" lengthAdjust="spacingAndGlyphs">p=0.341</text>
<g stroke="#74ea74" stroke-width="1.15" fill="none"><rect x="262.4" y="346.6" width="19.1" height="62.7"/><line x1="262.4" y1="392.2" x2="281.5" y2="392.2"/><line x1="271.95" y1="346.6" x2="271.95" y2="327.4"/><line x1="266.85" y1="327.4" x2="277.05" y2="327.4"/><line x1="271.95" y1="409.3" x2="271.95" y2="409.3"/><line x1="266.85" y1="409.3" x2="277.05" y2="409.3"/></g>
<circle cx="271.95" cy="340.5" r="0.75" fill="#e23ae6"/>
<circle cx="271.95" cy="345.9" r="0.75" fill="#e23ae6"/>
<circle cx="271.95" cy="351.1" r="0.75" fill="#e23ae6"/>
<circle cx="271.95" cy="356.7" r="0.75" fill="#e23ae6"/>
<circle cx="271.95" cy="384.5" r="0.75" fill="#e23ae6"/>
<circle cx="271.95" cy="399.2" r="0.75" fill="#e23ae6"/>
<circle cx="271.95" cy="406.9" r="0.75" fill="#e23ae6"/>
<circle cx="271.95" cy="409.3" r="0.75" fill="#e23ae6"/>
<g stroke="#5050e2" stroke-width="1.15" fill="none"><rect x="286" y="328.1" width="19.3" height="81.2"/><line x1="286" y1="357.4" x2="305.3" y2="357.4"/><line x1="295.65" y1="328.1" x2="295.65" y2="324.5"/><line x1="290.55" y1="324.5" x2="300.75" y2="324.5"/><line x1="295.65" y1="409.3" x2="295.65" y2="409.3"/><line x1="290.55" y1="409.3" x2="300.75" y2="409.3"/></g>
<circle cx="295.65" cy="325.1" r="0.75" fill="#80207f"/>
<circle cx="295.65" cy="327.4" r="0.75" fill="#80207f"/>
<circle cx="295.65" cy="334.2" r="0.75" fill="#80207f"/>
<circle cx="295.65" cy="340.5" r="0.75" fill="#80207f"/>
<circle cx="295.65" cy="374.4" r="0.75" fill="#80207f"/>
<circle cx="295.65" cy="383.2" r="0.75" fill="#80207f"/>
<circle cx="295.65" cy="409.3" r="0.75" fill="#80207f"/>
<path d="M271.95 295.4V286.3H295.65V295.4" stroke="#6a6a6a" stroke-width="1.1" fill="none"/>
<text x="275.1" y="282.2" class="P" textLength="17.4" lengthAdjust="spacingAndGlyphs">p=0.326</text>
<text transform="translate(367.3,264.7)" class="L">D</text>
<line x1="419.2" y1="252.2" x2="419.2" y2="428.5" stroke="#505050" stroke-width="1.1"/>
<line x1="415.3" y1="428.5" x2="683.2" y2="428.5" stroke="#a4a4a4" stroke-width="1.7"/>
<line x1="415.3" y1="428.5" x2="419.2" y2="428.5" stroke="#5a5a5a" stroke-width="1.1"/>
<text transform="translate(407.78,431.93) scale(1.3712,0.8309)" class="D">0</text>
<line x1="415.3" y1="384.52" x2="419.2" y2="384.52" stroke="#5a5a5a" stroke-width="1.1"/>
<text transform="translate(401.44,389.92) scale(1.2178,1.1326)" class="D">3</text><text transform="translate(407.78,387.95) scale(1.3712,0.8309)" class="D">0</text>
<line x1="415.3" y1="340.55" x2="419.2" y2="340.55" stroke="#5a5a5a" stroke-width="1.1"/>
<text transform="translate(401.06,343.96) scale(1.2844,1.0432)" class="D">6</text><text transform="translate(407.78,343.98) scale(1.3712,0.8309)" class="D">0</text>
<line x1="415.3" y1="296.57" x2="419.2" y2="296.57" stroke="#5a5a5a" stroke-width="1.1"/>
<text transform="translate(401.15,301.97) scale(1.2844,1.1326)" class="D">9</text><text transform="translate(407.78,300) scale(1.3712,0.8309)" class="D">0</text>
<line x1="415.3" y1="252.6" x2="419.2" y2="252.6" stroke="#5a5a5a" stroke-width="1.1"/>
<text transform="translate(396.66,256.1) scale(0.9264,0.8485)" class="D">1</text><text transform="translate(401.48,256.1) scale(1.2319,0.8459)" class="D">2</text><text transform="translate(407.78,256.03) scale(1.3712,0.8309)" class="D">0</text>
<line x1="450.6" y1="428.5" x2="450.6" y2="433.3" stroke="#5a5a5a" stroke-width="1.1"/>
<text transform="translate(447.18,442.83) scale(1.3712,0.8309)" class="D">0</text>
<line x1="517.9" y1="428.5" x2="517.9" y2="433.3" stroke="#5a5a5a" stroke-width="1.1"/>
<text transform="translate(511.43,442.9) scale(1.2319,0.8459)" class="D">2</text><text transform="translate(518.08,444.9) scale(1.2017,1.1550)" class="D">4</text>
<line x1="585.6" y1="428.5" x2="585.6" y2="433.3" stroke="#5a5a5a" stroke-width="1.1"/>
<text transform="translate(579.33,444.9) scale(1.2017,1.1550)" class="D">4</text><text transform="translate(585.89,442.81) scale(1.2471,1.0386)" class="D">8</text>
<line x1="652.7" y1="428.5" x2="652.7" y2="433.3" stroke="#5a5a5a" stroke-width="1.1"/>
<text transform="translate(646.37,444.9) scale(1.1962,1.1603)" class="D">7</text><text transform="translate(652.73,442.9) scale(1.2319,0.8459)" class="D">2</text>
<text x="485.8" y="460.2" class="X" textLength="132.2" lengthAdjust="spacingAndGlyphs">Hours after randomization</text>
<text transform="translate(389.85,372.6) rotate(-90)" class="X" textLength="64.4" lengthAdjust="spacingAndGlyphs">IL-8 (pg/mL)</text>
<g stroke="#74ea74" stroke-width="1.15" fill="none"><rect x="429.4" y="339.4" width="19.3" height="83.9"/><line x1="429.4" y1="408.7" x2="448.7" y2="408.7"/><line x1="439.05" y1="339.4" x2="439.05" y2="315.4"/><line x1="433.95" y1="315.4" x2="444.15" y2="315.4"/><line x1="439.05" y1="423.3" x2="439.05" y2="425.6"/><line x1="433.95" y1="425.6" x2="444.15" y2="425.6"/></g>
<circle cx="439.05" cy="332.4" r="0.75" fill="#e23ae6"/>
<circle cx="439.05" cy="335.3" r="0.75" fill="#e23ae6"/>
<circle cx="439.05" cy="348.8" r="0.75" fill="#e23ae6"/>
<circle cx="439.05" cy="356.7" r="0.75" fill="#e23ae6"/>
<circle cx="439.05" cy="400.8" r="0.75" fill="#e23ae6"/>
<circle cx="439.05" cy="416.1" r="0.75" fill="#e23ae6"/>
<circle cx="439.05" cy="420.4" r="0.75" fill="#e23ae6"/>
<circle cx="439.05" cy="424.5" r="0.75" fill="#e23ae6"/>
<circle cx="439.05" cy="425.6" r="0.75" fill="#e23ae6"/>
<g stroke="#5050e2" stroke-width="1.15" fill="none"><rect x="453" y="326.3" width="19.3" height="93"/><line x1="453" y1="365.3" x2="472.3" y2="365.3"/><line x1="462.65" y1="326.3" x2="462.65" y2="301.4"/><line x1="457.55" y1="301.4" x2="467.75" y2="301.4"/><line x1="462.65" y1="419.3" x2="462.65" y2="427.9"/><line x1="457.55" y1="427.9" x2="467.75" y2="427.9"/></g>
<circle cx="462.65" cy="310.5" r="0.75" fill="#80207f"/>
<circle cx="462.65" cy="326.3" r="0.75" fill="#80207f"/>
<circle cx="462.65" cy="336" r="0.75" fill="#80207f"/>
<circle cx="462.65" cy="339.1" r="0.75" fill="#80207f"/>
<circle cx="462.65" cy="391.7" r="0.75" fill="#80207f"/>
<circle cx="462.65" cy="407.5" r="0.75" fill="#80207f"/>
<circle cx="462.65" cy="417.7" r="0.75" fill="#80207f"/>
<circle cx="462.65" cy="421.1" r="0.75" fill="#80207f"/>
<circle cx="462.65" cy="427.9" r="0.75" fill="#80207f"/>
<path d="M439.05 295.8V287.2H462.65V295.8" stroke="#6a6a6a" stroke-width="1.1" fill="none"/>
<text x="442.15" y="283.1" class="P" textLength="17.4" lengthAdjust="spacingAndGlyphs">p=0.248</text>
<g stroke="#74ea74" stroke-width="1.15" fill="none"><rect x="496.5" y="345.5" width="19.2" height="79"/><line x1="496.5" y1="395.4" x2="515.7" y2="395.4"/><line x1="506.1" y1="345.5" x2="506.1" y2="321.3"/><line x1="501" y1="321.3" x2="511.2" y2="321.3"/><line x1="506.1" y1="424.5" x2="506.1" y2="427.9"/><line x1="501" y1="427.9" x2="511.2" y2="427.9"/></g>
<circle cx="506.1" cy="324" r="0.75" fill="#e23ae6"/>
<circle cx="506.1" cy="345.5" r="0.75" fill="#e23ae6"/>
<circle cx="506.1" cy="353.8" r="0.75" fill="#e23ae6"/>
<circle cx="506.1" cy="379.3" r="0.75" fill="#e23ae6"/>
<circle cx="506.1" cy="411.6" r="0.75" fill="#e23ae6"/>
<circle cx="506.1" cy="419.5" r="0.75" fill="#e23ae6"/>
<circle cx="506.1" cy="422.7" r="0.75" fill="#e23ae6"/>
<circle cx="506.1" cy="426.7" r="0.75" fill="#e23ae6"/>
<g stroke="#5050e2" stroke-width="1.15" fill="none"><rect x="520.5" y="335.8" width="19.3" height="83.7"/><line x1="520.5" y1="360.8" x2="539.8" y2="360.8"/><line x1="530.15" y1="335.8" x2="530.15" y2="313.9"/><line x1="525.05" y1="313.9" x2="535.25" y2="313.9"/><line x1="530.15" y1="419.5" x2="530.15" y2="427.9"/><line x1="525.05" y1="427.9" x2="535.25" y2="427.9"/></g>
<circle cx="530.15" cy="334.2" r="0.75" fill="#80207f"/>
<circle cx="530.15" cy="339.1" r="0.75" fill="#80207f"/>
<circle cx="530.15" cy="350.4" r="0.75" fill="#80207f"/>
<circle cx="530.15" cy="371.4" r="0.75" fill="#80207f"/>
<circle cx="530.15" cy="415.4" r="0.75" fill="#80207f"/>
<circle cx="530.15" cy="417.7" r="0.75" fill="#80207f"/>
<circle cx="530.15" cy="423.3" r="0.75" fill="#80207f"/>
<circle cx="530.15" cy="427.2" r="0.75" fill="#80207f"/>
<path d="M506.1 295.8V287.2H530.15V295.8" stroke="#6a6a6a" stroke-width="1.1" fill="none"/>
<text x="509.43" y="283.1" class="P" textLength="17.4" lengthAdjust="spacingAndGlyphs">p=0.525</text>
<g stroke="#74ea74" stroke-width="1.15" fill="none"><rect x="563.5" y="334.2" width="19.3" height="91.4"/><line x1="563.5" y1="407.5" x2="582.8" y2="407.5"/><line x1="573.15" y1="334.2" x2="573.15" y2="315.4"/><line x1="568.05" y1="315.4" x2="578.25" y2="315.4"/><line x1="573.15" y1="425.6" x2="573.15" y2="427.2"/><line x1="568.05" y1="427.2" x2="578.25" y2="427.2"/></g>
<circle cx="573.15" cy="326.3" r="0.75" fill="#e23ae6"/>
<circle cx="573.15" cy="331.5" r="0.75" fill="#e23ae6"/>
<circle cx="573.15" cy="341.4" r="0.75" fill="#e23ae6"/>
<circle cx="573.15" cy="345" r="0.75" fill="#e23ae6"/>
<circle cx="573.15" cy="404.8" r="0.75" fill="#e23ae6"/>
<circle cx="573.15" cy="409.3" r="0.75" fill="#e23ae6"/>
<circle cx="573.15" cy="418.4" r="0.75" fill="#e23ae6"/>
<circle cx="573.15" cy="424" r="0.75" fill="#e23ae6"/>
<circle cx="573.15" cy="426.7" r="0.75" fill="#e23ae6"/>
<g stroke="#5050e2" stroke-width="1.15" fill="none"><rect x="587.5" y="330.1" width="18.9" height="88.1"/><line x1="587.5" y1="368.5" x2="606.4" y2="368.5"/><line x1="596.95" y1="330.1" x2="596.95" y2="321.8"/><line x1="591.85" y1="321.8" x2="602.05" y2="321.8"/><line x1="596.95" y1="418.2" x2="596.95" y2="427.4"/><line x1="591.85" y1="427.4" x2="602.05" y2="427.4"/></g>
<circle cx="596.95" cy="327" r="0.75" fill="#80207f"/>
<circle cx="596.95" cy="338.2" r="0.75" fill="#80207f"/>
<circle cx="596.95" cy="339.1" r="0.75" fill="#80207f"/>
<circle cx="596.95" cy="397.4" r="0.75" fill="#80207f"/>
<circle cx="596.95" cy="400.8" r="0.75" fill="#80207f"/>
<circle cx="596.95" cy="417.7" r="0.75" fill="#80207f"/>
<circle cx="596.95" cy="424" r="0.75" fill="#80207f"/>
<circle cx="596.95" cy="426.7" r="0.75" fill="#80207f"/>
<path d="M573.15 295.8V287.2H596.95V295.8" stroke="#6a6a6a" stroke-width="1.1" fill="none"/>
<text x="576.35" y="283.1" class="P" textLength="17.4" lengthAdjust="spacingAndGlyphs">p=0.341</text>
<g stroke="#74ea74" stroke-width="1.15" fill="none"><rect x="631" y="346.1" width="19.2" height="78.4"/><line x1="631" y1="407.5" x2="650.2" y2="407.5"/><line x1="640.6" y1="346.1" x2="640.6" y2="313.9"/><line x1="635.5" y1="313.9" x2="645.7" y2="313.9"/><line x1="640.6" y1="424.5" x2="640.6" y2="427.9"/><line x1="635.5" y1="427.9" x2="645.7" y2="427.9"/></g>
<circle cx="640.6" cy="343.9" r="0.75" fill="#e23ae6"/>
<circle cx="640.6" cy="347.7" r="0.75" fill="#e23ae6"/>
<circle cx="640.6" cy="400.1" r="0.75" fill="#e23ae6"/>
<circle cx="640.6" cy="415" r="0.75" fill="#e23ae6"/>
<circle cx="640.6" cy="420.4" r="0.75" fill="#e23ae6"/>
<circle cx="640.6" cy="427.2" r="0.75" fill="#e23ae6"/>
<g stroke="#5050e2" stroke-width="1.15" fill="none"><rect x="654.6" y="336.4" width="18.9" height="81.8"/><line x1="654.6" y1="365.3" x2="673.5" y2="365.3"/><line x1="664.05" y1="336.4" x2="664.05" y2="309.3"/><line x1="658.95" y1="309.3" x2="669.15" y2="309.3"/><line x1="664.05" y1="418.2" x2="664.05" y2="426.3"/><line x1="658.95" y1="426.3" x2="669.15" y2="426.3"/></g>
<circle cx="664.05" cy="324.7" r="0.75" fill="#80207f"/>
<circle cx="664.05" cy="337.6" r="0.75" fill="#80207f"/>
<circle cx="664.05" cy="344.8" r="0.75" fill="#80207f"/>
<circle cx="664.05" cy="385.6" r="0.75" fill="#80207f"/>
<circle cx="664.05" cy="403.7" r="0.75" fill="#80207f"/>
<circle cx="664.05" cy="417.7" r="0.75" fill="#80207f"/>
<circle cx="664.05" cy="425.6" r="0.75" fill="#80207f"/>
<path d="M640.6 295.8V287.2H664.05V295.8" stroke="#6a6a6a" stroke-width="1.1" fill="none"/>
<text x="643.62" y="283.1" class="P" textLength="17.4" lengthAdjust="spacingAndGlyphs">p=0.326</text>
<text transform="translate(2.2,516)" class="L">E</text>
<line x1="59.8" y1="499.2" x2="59.8" y2="676.1" stroke="#777777" stroke-width="1.3"/>
<line x1="54.9" y1="676.1" x2="323.2" y2="676.1" stroke="#666666" stroke-width="1.3"/>
<line x1="54.9" y1="676.1" x2="59.8" y2="676.1" stroke="#5a5a5a" stroke-width="1.1"/>
<text transform="translate(47.38,679.53) scale(1.3712,0.8309)" class="D">0</text>
<line x1="54.9" y1="640.8" x2="59.8" y2="640.8" stroke="#5a5a5a" stroke-width="1.1"/>
<text transform="translate(35.56,644.3) scale(0.9264,0.8485)" class="D">1</text><text transform="translate(40.38,644.23) scale(1.3712,0.8309)" class="D">0</text><text transform="translate(47.38,644.23) scale(1.3712,0.8309)" class="D">0</text>
<line x1="54.9" y1="605.5" x2="59.8" y2="605.5" stroke="#5a5a5a" stroke-width="1.1"/>
<text transform="translate(34.08,609) scale(1.2319,0.8459)" class="D">2</text><text transform="translate(40.38,608.93) scale(1.3712,0.8309)" class="D">0</text><text transform="translate(47.38,608.93) scale(1.3712,0.8309)" class="D">0</text>
<line x1="54.9" y1="570.2" x2="59.8" y2="570.2" stroke="#5a5a5a" stroke-width="1.1"/>
<text transform="translate(34.04,575.6) scale(1.2178,1.1326)" class="D">3</text><text transform="translate(40.38,573.63) scale(1.3712,0.8309)" class="D">0</text><text transform="translate(47.38,573.63) scale(1.3712,0.8309)" class="D">0</text>
<line x1="54.9" y1="534.9" x2="59.8" y2="534.9" stroke="#5a5a5a" stroke-width="1.1"/>
<text transform="translate(33.93,540.4) scale(1.2017,1.1550)" class="D">4</text><text transform="translate(40.38,538.33) scale(1.3712,0.8309)" class="D">0</text><text transform="translate(47.38,538.33) scale(1.3712,0.8309)" class="D">0</text>
<line x1="54.9" y1="499.6" x2="59.8" y2="499.6" stroke="#5a5a5a" stroke-width="1.1"/>
<text transform="translate(34.23,505) scale(1.1848,1.1446)" class="D">5</text><text transform="translate(40.38,503.03) scale(1.3712,0.8309)" class="D">0</text><text transform="translate(47.38,503.03) scale(1.3712,0.8309)" class="D">0</text>
<line x1="91.3" y1="676.1" x2="91.3" y2="680.9" stroke="#5a5a5a" stroke-width="1.1"/>
<text transform="translate(87.88,690.43) scale(1.3712,0.8309)" class="D">0</text>
<line x1="158.4" y1="676.1" x2="158.4" y2="680.9" stroke="#5a5a5a" stroke-width="1.1"/>
<text transform="translate(151.93,690.5) scale(1.2319,0.8459)" class="D">2</text><text transform="translate(158.58,692.5) scale(1.2017,1.1550)" class="D">4</text>
<line x1="225.6" y1="676.1" x2="225.6" y2="680.9" stroke="#5a5a5a" stroke-width="1.1"/>
<text transform="translate(219.33,692.5) scale(1.2017,1.1550)" class="D">4</text><text transform="translate(225.89,690.41) scale(1.2471,1.0386)" class="D">8</text>
<line x1="292.7" y1="676.1" x2="292.7" y2="680.9" stroke="#5a5a5a" stroke-width="1.1"/>
<text transform="translate(286.37,692.5) scale(1.1962,1.1603)" class="D">7</text><text transform="translate(292.73,690.5) scale(1.2319,0.8459)" class="D">2</text>
<text x="126.1" y="706.9" class="X" textLength="131.9" lengthAdjust="spacingAndGlyphs">Hours after randomization</text>
<text transform="translate(27.95,622.15) rotate(-90)" class="X" textLength="69.3" lengthAdjust="spacingAndGlyphs">IL-10 (pg/mL)</text>
<g stroke="#74ea74" stroke-width="1.15" fill="none"><rect x="69.7" y="591.5" width="19.5" height="77.8"/><line x1="69.7" y1="657.4" x2="89.2" y2="657.4"/><line x1="79.45" y1="591.5" x2="79.45" y2="579.5"/><line x1="74.35" y1="579.5" x2="84.55" y2="579.5"/><line x1="79.45" y1="669.3" x2="79.45" y2="670.2"/><line x1="74.35" y1="670.2" x2="84.55" y2="670.2"/></g>
<circle cx="79.45" cy="580.6" r="0.75" fill="#e23ae6"/>
<circle cx="79.45" cy="583.6" r="0.75" fill="#e23ae6"/>
<circle cx="79.45" cy="594.2" r="0.75" fill="#e23ae6"/>
<circle cx="79.45" cy="601.4" r="0.75" fill="#e23ae6"/>
<circle cx="79.45" cy="652.4" r="0.75" fill="#e23ae6"/>
<circle cx="79.45" cy="662.6" r="0.75" fill="#e23ae6"/>
<circle cx="79.45" cy="665.3" r="0.75" fill="#e23ae6"/>
<circle cx="79.45" cy="669.8" r="0.75" fill="#e23ae6"/>
<g stroke="#5050e2" stroke-width="1.15" fill="none"><rect x="93.4" y="565.5" width="19.3" height="102.5"/><line x1="93.4" y1="618.3" x2="112.7" y2="618.3"/><line x1="103.05" y1="565.5" x2="103.05" y2="550.8"/><line x1="97.95" y1="550.8" x2="108.15" y2="550.8"/><line x1="103.05" y1="668" x2="103.05" y2="673.2"/><line x1="97.95" y1="673.2" x2="108.15" y2="673.2"/></g>
<circle cx="103.05" cy="554.7" r="0.75" fill="#80207f"/>
<circle cx="103.05" cy="561.9" r="0.75" fill="#80207f"/>
<circle cx="103.05" cy="575.4" r="0.75" fill="#80207f"/>
<circle cx="103.05" cy="585.8" r="0.75" fill="#80207f"/>
<circle cx="103.05" cy="589" r="0.75" fill="#80207f"/>
<circle cx="103.05" cy="646.8" r="0.75" fill="#80207f"/>
<circle cx="103.05" cy="658.5" r="0.75" fill="#80207f"/>
<circle cx="103.05" cy="665.3" r="0.75" fill="#80207f"/>
<circle cx="103.05" cy="670.5" r="0.75" fill="#80207f"/>
<circle cx="103.05" cy="672.7" r="0.75" fill="#80207f"/>
<path d="M79.45 543.4V534.3H103.05V543.4" stroke="#6a6a6a" stroke-width="1.1" fill="none"/>
<text x="82.55" y="530.2" class="P" textLength="17.4" lengthAdjust="spacingAndGlyphs">p=0.248</text>
<g stroke="#74ea74" stroke-width="1.15" fill="none"><rect x="136.8" y="586.3" width="19.3" height="82.4"/><line x1="136.8" y1="643.4" x2="156.1" y2="643.4"/><line x1="146.45" y1="586.3" x2="146.45" y2="572.1"/><line x1="141.35" y1="572.1" x2="151.55" y2="572.1"/><line x1="146.45" y1="668.7" x2="146.45" y2="670.9"/><line x1="141.35" y1="670.9" x2="151.55" y2="670.9"/></g>
<circle cx="146.45" cy="581.8" r="0.75" fill="#e23ae6"/>
<circle cx="146.45" cy="595.3" r="0.75" fill="#e23ae6"/>
<circle cx="146.45" cy="602.1" r="0.75" fill="#e23ae6"/>
<circle cx="146.45" cy="633.7" r="0.75" fill="#e23ae6"/>
<circle cx="146.45" cy="653.3" r="0.75" fill="#e23ae6"/>
<circle cx="146.45" cy="664.2" r="0.75" fill="#e23ae6"/>
<circle cx="146.45" cy="668.7" r="0.75" fill="#e23ae6"/>
<circle cx="146.45" cy="670.5" r="0.75" fill="#e23ae6"/>
<g stroke="#5050e2" stroke-width="1.15" fill="none"><rect x="160.5" y="576.1" width="19.6" height="86.9"/><line x1="160.5" y1="615.2" x2="180.1" y2="615.2"/><line x1="170.3" y1="576.1" x2="170.3" y2="561.9"/><line x1="165.2" y1="561.9" x2="175.4" y2="561.9"/><line x1="170.3" y1="663" x2="170.3" y2="672.1"/><line x1="165.2" y1="672.1" x2="175.4" y2="672.1"/></g>
<circle cx="170.3" cy="561.9" r="0.75" fill="#80207f"/>
<circle cx="170.3" cy="575" r="0.75" fill="#80207f"/>
<circle cx="170.3" cy="579.5" r="0.75" fill="#80207f"/>
<circle cx="170.3" cy="590.8" r="0.75" fill="#80207f"/>
<circle cx="170.3" cy="595.3" r="0.75" fill="#80207f"/>
<circle cx="170.3" cy="634.8" r="0.75" fill="#80207f"/>
<circle cx="170.3" cy="655.1" r="0.75" fill="#80207f"/>
<circle cx="170.3" cy="660.8" r="0.75" fill="#80207f"/>
<circle cx="170.3" cy="666.4" r="0.75" fill="#80207f"/>
<circle cx="170.3" cy="670.9" r="0.75" fill="#80207f"/>
<path d="M146.45 543.4V534.3H170.3V543.4" stroke="#6a6a6a" stroke-width="1.1" fill="none"/>
<text x="149.68" y="530.2" class="P" textLength="17.4" lengthAdjust="spacingAndGlyphs">p=0.525</text>
<g stroke="#74ea74" stroke-width="1.15" fill="none"><rect x="204.4" y="589.2" width="19.1" height="79.5"/><line x1="204.4" y1="646.8" x2="223.5" y2="646.8"/><line x1="213.95" y1="589.2" x2="213.95" y2="576.1"/><line x1="208.85" y1="576.1" x2="219.05" y2="576.1"/><line x1="213.95" y1="668.7" x2="213.95" y2="670.9"/><line x1="208.85" y1="670.9" x2="219.05" y2="670.9"/></g>
<circle cx="213.95" cy="582.2" r="0.75" fill="#e23ae6"/>
<circle cx="213.95" cy="593.5" r="0.75" fill="#e23ae6"/>
<circle cx="213.95" cy="598.2" r="0.75" fill="#e23ae6"/>
<circle cx="213.95" cy="637.1" r="0.75" fill="#e23ae6"/>
<circle cx="213.95" cy="656.9" r="0.75" fill="#e23ae6"/>
<circle cx="213.95" cy="661.9" r="0.75" fill="#e23ae6"/>
<circle cx="213.95" cy="665.3" r="0.75" fill="#e23ae6"/>
<circle cx="213.95" cy="670.5" r="0.75" fill="#e23ae6"/>
<g stroke="#5050e2" stroke-width="1.15" fill="none"><rect x="227.7" y="575.4" width="19.3" height="91.7"/><line x1="227.7" y1="618.3" x2="247" y2="618.3"/><line x1="237.35" y1="575.4" x2="237.35" y2="553.1"/><line x1="232.25" y1="553.1" x2="242.45" y2="553.1"/><line x1="237.35" y1="667.1" x2="237.35" y2="672.5"/><line x1="232.25" y1="672.5" x2="242.45" y2="672.5"/></g>
<circle cx="237.35" cy="574.3" r="0.75" fill="#80207f"/>
<circle cx="237.35" cy="586.3" r="0.75" fill="#80207f"/>
<circle cx="237.35" cy="589.2" r="0.75" fill="#80207f"/>
<circle cx="237.35" cy="646.5" r="0.75" fill="#80207f"/>
<circle cx="237.35" cy="650.6" r="0.75" fill="#80207f"/>
<circle cx="237.35" cy="666.4" r="0.75" fill="#80207f"/>
<circle cx="237.35" cy="669.3" r="0.75" fill="#80207f"/>
<path d="M213.95 543.4V534.3H237.35V543.4" stroke="#6a6a6a" stroke-width="1.1" fill="none"/>
<text x="216.95" y="530.2" class="P" textLength="17.4" lengthAdjust="spacingAndGlyphs">p=0.341</text>
<g stroke="#74ea74" stroke-width="1.15" fill="none"><rect x="271.3" y="590.3" width="19.3" height="79"/><line x1="271.3" y1="654.7" x2="290.6" y2="654.7"/><line x1="280.95" y1="590.3" x2="280.95" y2="572.3"/><line x1="275.85" y1="572.3" x2="286.05" y2="572.3"/><line x1="280.95" y1="669.3" x2="280.95" y2="672.1"/><line x1="275.85" y1="672.1" x2="286.05" y2="672.1"/></g>
<circle cx="280.95" cy="581.3" r="0.75" fill="#e23ae6"/>
<circle cx="280.95" cy="592.6" r="0.75" fill="#e23ae6"/>
<circle cx="280.95" cy="593.5" r="0.75" fill="#e23ae6"/>
<circle cx="280.95" cy="642.7" r="0.75" fill="#e23ae6"/>
<circle cx="280.95" cy="667.1" r="0.75" fill="#e23ae6"/>
<circle cx="280.95" cy="670.5" r="0.75" fill="#e23ae6"/>
<g stroke="#5050e2" stroke-width="1.15" fill="none"><rect x="295" y="578.4" width="19.4" height="89.8"/><line x1="295" y1="610.4" x2="314.4" y2="610.4"/><line x1="304.7" y1="578.4" x2="304.7" y2="564.4"/><line x1="299.6" y1="564.4" x2="309.8" y2="564.4"/><line x1="304.7" y1="668.2" x2="304.7" y2="673.2"/><line x1="299.6" y1="673.2" x2="309.8" y2="673.2"/></g>
<circle cx="304.7" cy="568.2" r="0.75" fill="#80207f"/>
<circle cx="304.7" cy="574.5" r="0.75" fill="#80207f"/>
<circle cx="304.7" cy="589.2" r="0.75" fill="#80207f"/>
<circle cx="304.7" cy="593" r="0.75" fill="#80207f"/>
<circle cx="304.7" cy="594.9" r="0.75" fill="#80207f"/>
<circle cx="304.7" cy="625.3" r="0.75" fill="#80207f"/>
<circle cx="304.7" cy="645.4" r="0.75" fill="#80207f"/>
<circle cx="304.7" cy="668.2" r="0.75" fill="#80207f"/>
<circle cx="304.7" cy="670.9" r="0.75" fill="#80207f"/>
<path d="M280.95 543.4V534.3H304.7V543.4" stroke="#6a6a6a" stroke-width="1.1" fill="none"/>
<text x="284.13" y="530.2" class="P" textLength="17.4" lengthAdjust="spacingAndGlyphs">p=0.326</text>
<text transform="translate(367.3,515.9)" class="L">F</text>
<line x1="414.5" y1="499.2" x2="414.5" y2="676" stroke="#555555" stroke-width="1.1"/>
<line x1="410.3" y1="676" x2="678.6" y2="676" stroke="#9a9a9a" stroke-width="1.6"/>
<line x1="410.3" y1="676" x2="414.5" y2="676" stroke="#5a5a5a" stroke-width="1.1"/>
<text transform="translate(402.78,679.43) scale(1.3712,0.8309)" class="D">0</text>
<line x1="410.3" y1="631.9" x2="414.5" y2="631.9" stroke="#5a5a5a" stroke-width="1.1"/>
<text transform="translate(403.63,637.3) scale(1.1848,1.1446)" class="D">5</text>
<line x1="410.3" y1="587.8" x2="414.5" y2="587.8" stroke="#5a5a5a" stroke-width="1.1"/>
<text transform="translate(397.96,591.3) scale(0.9264,0.8485)" class="D">1</text><text transform="translate(402.78,591.23) scale(1.3712,0.8309)" class="D">0</text>
<line x1="410.3" y1="543.7" x2="414.5" y2="543.7" stroke="#5a5a5a" stroke-width="1.1"/>
<text transform="translate(398.76,547.2) scale(0.9264,0.8485)" class="D">1</text><text transform="translate(403.63,549.1) scale(1.1848,1.1446)" class="D">5</text>
<line x1="410.3" y1="499.6" x2="414.5" y2="499.6" stroke="#5a5a5a" stroke-width="1.1"/>
<text transform="translate(396.48,503.1) scale(1.2319,0.8459)" class="D">2</text><text transform="translate(402.78,503.03) scale(1.3712,0.8309)" class="D">0</text>
<line x1="445.6" y1="676" x2="445.6" y2="680.8" stroke="#5a5a5a" stroke-width="1.1"/>
<text transform="translate(442.18,690.33) scale(1.3712,0.8309)" class="D">0</text>
<line x1="512.9" y1="676" x2="512.9" y2="680.8" stroke="#5a5a5a" stroke-width="1.1"/>
<text transform="translate(506.43,690.4) scale(1.2319,0.8459)" class="D">2</text><text transform="translate(513.08,692.4) scale(1.2017,1.1550)" class="D">4</text>
<line x1="580.4" y1="676" x2="580.4" y2="680.8" stroke="#5a5a5a" stroke-width="1.1"/>
<text transform="translate(574.13,692.4) scale(1.2017,1.1550)" class="D">4</text><text transform="translate(580.69,690.31) scale(1.2471,1.0386)" class="D">8</text>
<line x1="647.7" y1="676" x2="647.7" y2="680.8" stroke="#5a5a5a" stroke-width="1.1"/>
<text transform="translate(641.37,692.4) scale(1.1962,1.1603)" class="D">7</text><text transform="translate(647.73,690.4) scale(1.2319,0.8459)" class="D">2</text>
<text x="481.2" y="706.9" class="X" textLength="131.5" lengthAdjust="spacingAndGlyphs">Hours after randomization</text>
<text transform="translate(389.95,624.05) rotate(-90)" class="X" textLength="73.3" lengthAdjust="spacingAndGlyphs">MIP-2 (pg/mL)</text>
<g stroke="#74ea74" stroke-width="1.15" fill="none"><rect x="424.4" y="603.2" width="19.3" height="39.5"/><line x1="424.4" y1="634.4" x2="443.7" y2="634.4"/><line x1="434.05" y1="603.2" x2="434.05" y2="574.5"/><line x1="428.95" y1="574.5" x2="439.15" y2="574.5"/><line x1="434.05" y1="642.7" x2="434.05" y2="650.6"/><line x1="428.95" y1="650.6" x2="439.15" y2="650.6"/></g>
<circle cx="434.05" cy="598.2" r="0.75" fill="#e23ae6"/>
<circle cx="434.05" cy="601" r="0.75" fill="#e23ae6"/>
<circle cx="434.05" cy="608.4" r="0.75" fill="#e23ae6"/>
<circle cx="434.05" cy="609.3" r="0.75" fill="#e23ae6"/>
<circle cx="434.05" cy="633.7" r="0.75" fill="#e23ae6"/>
<circle cx="434.05" cy="638.2" r="0.75" fill="#e23ae6"/>
<circle cx="434.05" cy="641.6" r="0.75" fill="#e23ae6"/>
<circle cx="434.05" cy="647.2" r="0.75" fill="#e23ae6"/>
<circle cx="434.05" cy="650.6" r="0.75" fill="#e23ae6"/>
<g stroke="#5050e2" stroke-width="1.15" fill="none"><rect x="448.4" y="589" width="19.3" height="53.7"/><line x1="448.4" y1="617.4" x2="467.7" y2="617.4"/><line x1="458.05" y1="589" x2="458.05" y2="570"/><line x1="452.95" y1="570" x2="463.15" y2="570"/><line x1="458.05" y1="642.7" x2="458.05" y2="650.6"/><line x1="452.95" y1="650.6" x2="463.15" y2="650.6"/></g>
<circle cx="458.05" cy="578.4" r="0.75" fill="#80207f"/>
<circle cx="458.05" cy="588.5" r="0.75" fill="#80207f"/>
<circle cx="458.05" cy="594.9" r="0.75" fill="#80207f"/>
<circle cx="458.05" cy="602.1" r="0.75" fill="#80207f"/>
<circle cx="458.05" cy="632.6" r="0.75" fill="#80207f"/>
<circle cx="458.05" cy="633.7" r="0.75" fill="#80207f"/>
<circle cx="458.05" cy="640.5" r="0.75" fill="#80207f"/>
<circle cx="458.05" cy="644.3" r="0.75" fill="#80207f"/>
<circle cx="458.05" cy="649.5" r="0.75" fill="#80207f"/>
<path d="M434.05 542.7V534.3H458.05V542.7" stroke="#6a6a6a" stroke-width="1.1" fill="none"/>
<text x="437.35" y="530.2" class="P" textLength="17.4" lengthAdjust="spacingAndGlyphs">p=0.248</text>
<g stroke="#74ea74" stroke-width="1.15" fill="none"><rect x="491.5" y="606.1" width="19.2" height="38.4"/><line x1="491.5" y1="630.3" x2="510.7" y2="630.3"/><line x1="501.1" y1="606.1" x2="501.1" y2="597.6"/><line x1="496" y1="597.6" x2="506.2" y2="597.6"/><line x1="501.1" y1="644.5" x2="501.1" y2="649.5"/><line x1="496" y1="649.5" x2="506.2" y2="649.5"/></g>
<circle cx="501.1" cy="599.8" r="0.75" fill="#e23ae6"/>
<circle cx="501.1" cy="604.8" r="0.75" fill="#e23ae6"/>
<circle cx="501.1" cy="609.3" r="0.75" fill="#e23ae6"/>
<circle cx="501.1" cy="612.2" r="0.75" fill="#e23ae6"/>
<circle cx="501.1" cy="622.4" r="0.75" fill="#e23ae6"/>
<circle cx="501.1" cy="638.2" r="0.75" fill="#e23ae6"/>
<circle cx="501.1" cy="642.7" r="0.75" fill="#e23ae6"/>
<circle cx="501.1" cy="649" r="0.75" fill="#e23ae6"/>
<g stroke="#5050e2" stroke-width="1.15" fill="none"><rect x="515.5" y="596.9" width="19.3" height="46.5"/><line x1="515.5" y1="616.3" x2="534.8" y2="616.3"/><line x1="525.15" y1="596.9" x2="525.15" y2="581.8"/><line x1="520.05" y1="581.8" x2="530.25" y2="581.8"/><line x1="525.15" y1="643.4" x2="525.15" y2="651.3"/><line x1="520.05" y1="651.3" x2="530.25" y2="651.3"/></g>
<circle cx="525.15" cy="594.2" r="0.75" fill="#80207f"/>
<circle cx="525.15" cy="596.9" r="0.75" fill="#80207f"/>
<circle cx="525.15" cy="602.8" r="0.75" fill="#80207f"/>
<circle cx="525.15" cy="629.6" r="0.75" fill="#80207f"/>
<circle cx="525.15" cy="640.9" r="0.75" fill="#80207f"/>
<circle cx="525.15" cy="644.5" r="0.75" fill="#80207f"/>
<circle cx="525.15" cy="648.4" r="0.75" fill="#80207f"/>
<path d="M501.1 542.7V534.3H525.15V542.7" stroke="#6a6a6a" stroke-width="1.1" fill="none"/>
<text x="504.43" y="530.2" class="P" textLength="17.4" lengthAdjust="spacingAndGlyphs">p=0.525</text>
<g stroke="#74ea74" stroke-width="1.15" fill="none"><rect x="558.9" y="605.5" width="19.4" height="38.8"/><line x1="558.9" y1="620.1" x2="578.3" y2="620.1"/><line x1="568.6" y1="605.5" x2="568.6" y2="563.3"/><line x1="563.5" y1="563.3" x2="573.7" y2="563.3"/><line x1="568.6" y1="644.3" x2="568.6" y2="651.3"/><line x1="563.5" y1="651.3" x2="573.7" y2="651.3"/></g>
<circle cx="568.6" cy="604.3" r="0.75" fill="#e23ae6"/>
<circle cx="568.6" cy="609.5" r="0.75" fill="#e23ae6"/>
<circle cx="568.6" cy="630.3" r="0.75" fill="#e23ae6"/>
<circle cx="568.6" cy="643.4" r="0.75" fill="#e23ae6"/>
<circle cx="568.6" cy="645.4" r="0.75" fill="#e23ae6"/>
<g stroke="#5050e2" stroke-width="1.15" fill="none"><rect x="582.5" y="592.6" width="19.3" height="50.8"/><line x1="582.5" y1="619.5" x2="601.8" y2="619.5"/><line x1="592.15" y1="592.6" x2="592.15" y2="584.5"/><line x1="587.05" y1="584.5" x2="597.25" y2="584.5"/><line x1="592.15" y1="643.4" x2="592.15" y2="649.5"/><line x1="587.05" y1="649.5" x2="597.25" y2="649.5"/></g>
<circle cx="592.15" cy="591.5" r="0.75" fill="#80207f"/>
<circle cx="592.15" cy="596" r="0.75" fill="#80207f"/>
<circle cx="592.15" cy="601" r="0.75" fill="#80207f"/>
<circle cx="592.15" cy="602.1" r="0.75" fill="#80207f"/>
<circle cx="592.15" cy="637.1" r="0.75" fill="#80207f"/>
<circle cx="592.15" cy="639.8" r="0.75" fill="#80207f"/>
<circle cx="592.15" cy="645" r="0.75" fill="#80207f"/>
<circle cx="592.15" cy="649" r="0.75" fill="#80207f"/>
<path d="M568.6 542.7V534.3H592.15V542.7" stroke="#6a6a6a" stroke-width="1.1" fill="none"/>
<text x="571.67" y="530.2" class="P" textLength="17.4" lengthAdjust="spacingAndGlyphs">p=0.341</text>
<g stroke="#74ea74" stroke-width="1.15" fill="none"><rect x="626" y="609.5" width="19.6" height="35.9"/><line x1="626" y1="636.4" x2="645.6" y2="636.4"/><line x1="635.8" y1="609.5" x2="635.8" y2="557.6"/><line x1="630.7" y1="557.6" x2="640.9" y2="557.6"/><line x1="635.8" y1="645.4" x2="635.8" y2="651.3"/><line x1="630.7" y1="651.3" x2="640.9" y2="651.3"/></g>
<circle cx="635.8" cy="596.4" r="0.75" fill="#e23ae6"/>
<circle cx="635.8" cy="610.4" r="0.75" fill="#e23ae6"/>
<circle cx="635.8" cy="635.5" r="0.75" fill="#e23ae6"/>
<circle cx="635.8" cy="639.3" r="0.75" fill="#e23ae6"/>
<circle cx="635.8" cy="643.8" r="0.75" fill="#e23ae6"/>
<circle cx="635.8" cy="650.6" r="0.75" fill="#e23ae6"/>
<g stroke="#5050e2" stroke-width="1.15" fill="none"><rect x="649.6" y="596.4" width="19.3" height="47"/><line x1="649.6" y1="622.4" x2="668.9" y2="622.4"/><line x1="659.25" y1="596.4" x2="659.25" y2="589.2"/><line x1="654.15" y1="589.2" x2="664.35" y2="589.2"/><line x1="659.25" y1="643.4" x2="659.25" y2="650.2"/><line x1="654.15" y1="650.2" x2="664.35" y2="650.2"/></g>
<circle cx="659.25" cy="592.4" r="0.75" fill="#80207f"/>
<circle cx="659.25" cy="595.3" r="0.75" fill="#80207f"/>
<circle cx="659.25" cy="600.5" r="0.75" fill="#80207f"/>
<circle cx="659.25" cy="609.5" r="0.75" fill="#80207f"/>
<circle cx="659.25" cy="634.4" r="0.75" fill="#80207f"/>
<circle cx="659.25" cy="638.2" r="0.75" fill="#80207f"/>
<circle cx="659.25" cy="640" r="0.75" fill="#80207f"/>
<circle cx="659.25" cy="645" r="0.75" fill="#80207f"/>
<path d="M635.8 542.7V534.3H659.25V542.7" stroke="#6a6a6a" stroke-width="1.1" fill="none"/>
<text x="638.82" y="530.2" class="P" textLength="17.4" lengthAdjust="spacingAndGlyphs">p=0.326</text>
<rect x="69.4" y="11.3" width="13.4" height="5" rx="1" stroke="#74ea74" stroke-width="1.4" fill="none"/>
<text x="89.4" y="17" class="G" textLength="84.0" lengthAdjust="spacingAndGlyphs">High-intensity NPPV</text>
<rect x="194.6" y="11.3" width="13.2" height="4.9" rx="1" stroke="#5050e2" stroke-width="1.4" fill="none"/>
<text x="215.2" y="17" class="G" textLength="80.6" lengthAdjust="spacingAndGlyphs">Low-intensity NPPV</text>
</svg>
</body></html>
